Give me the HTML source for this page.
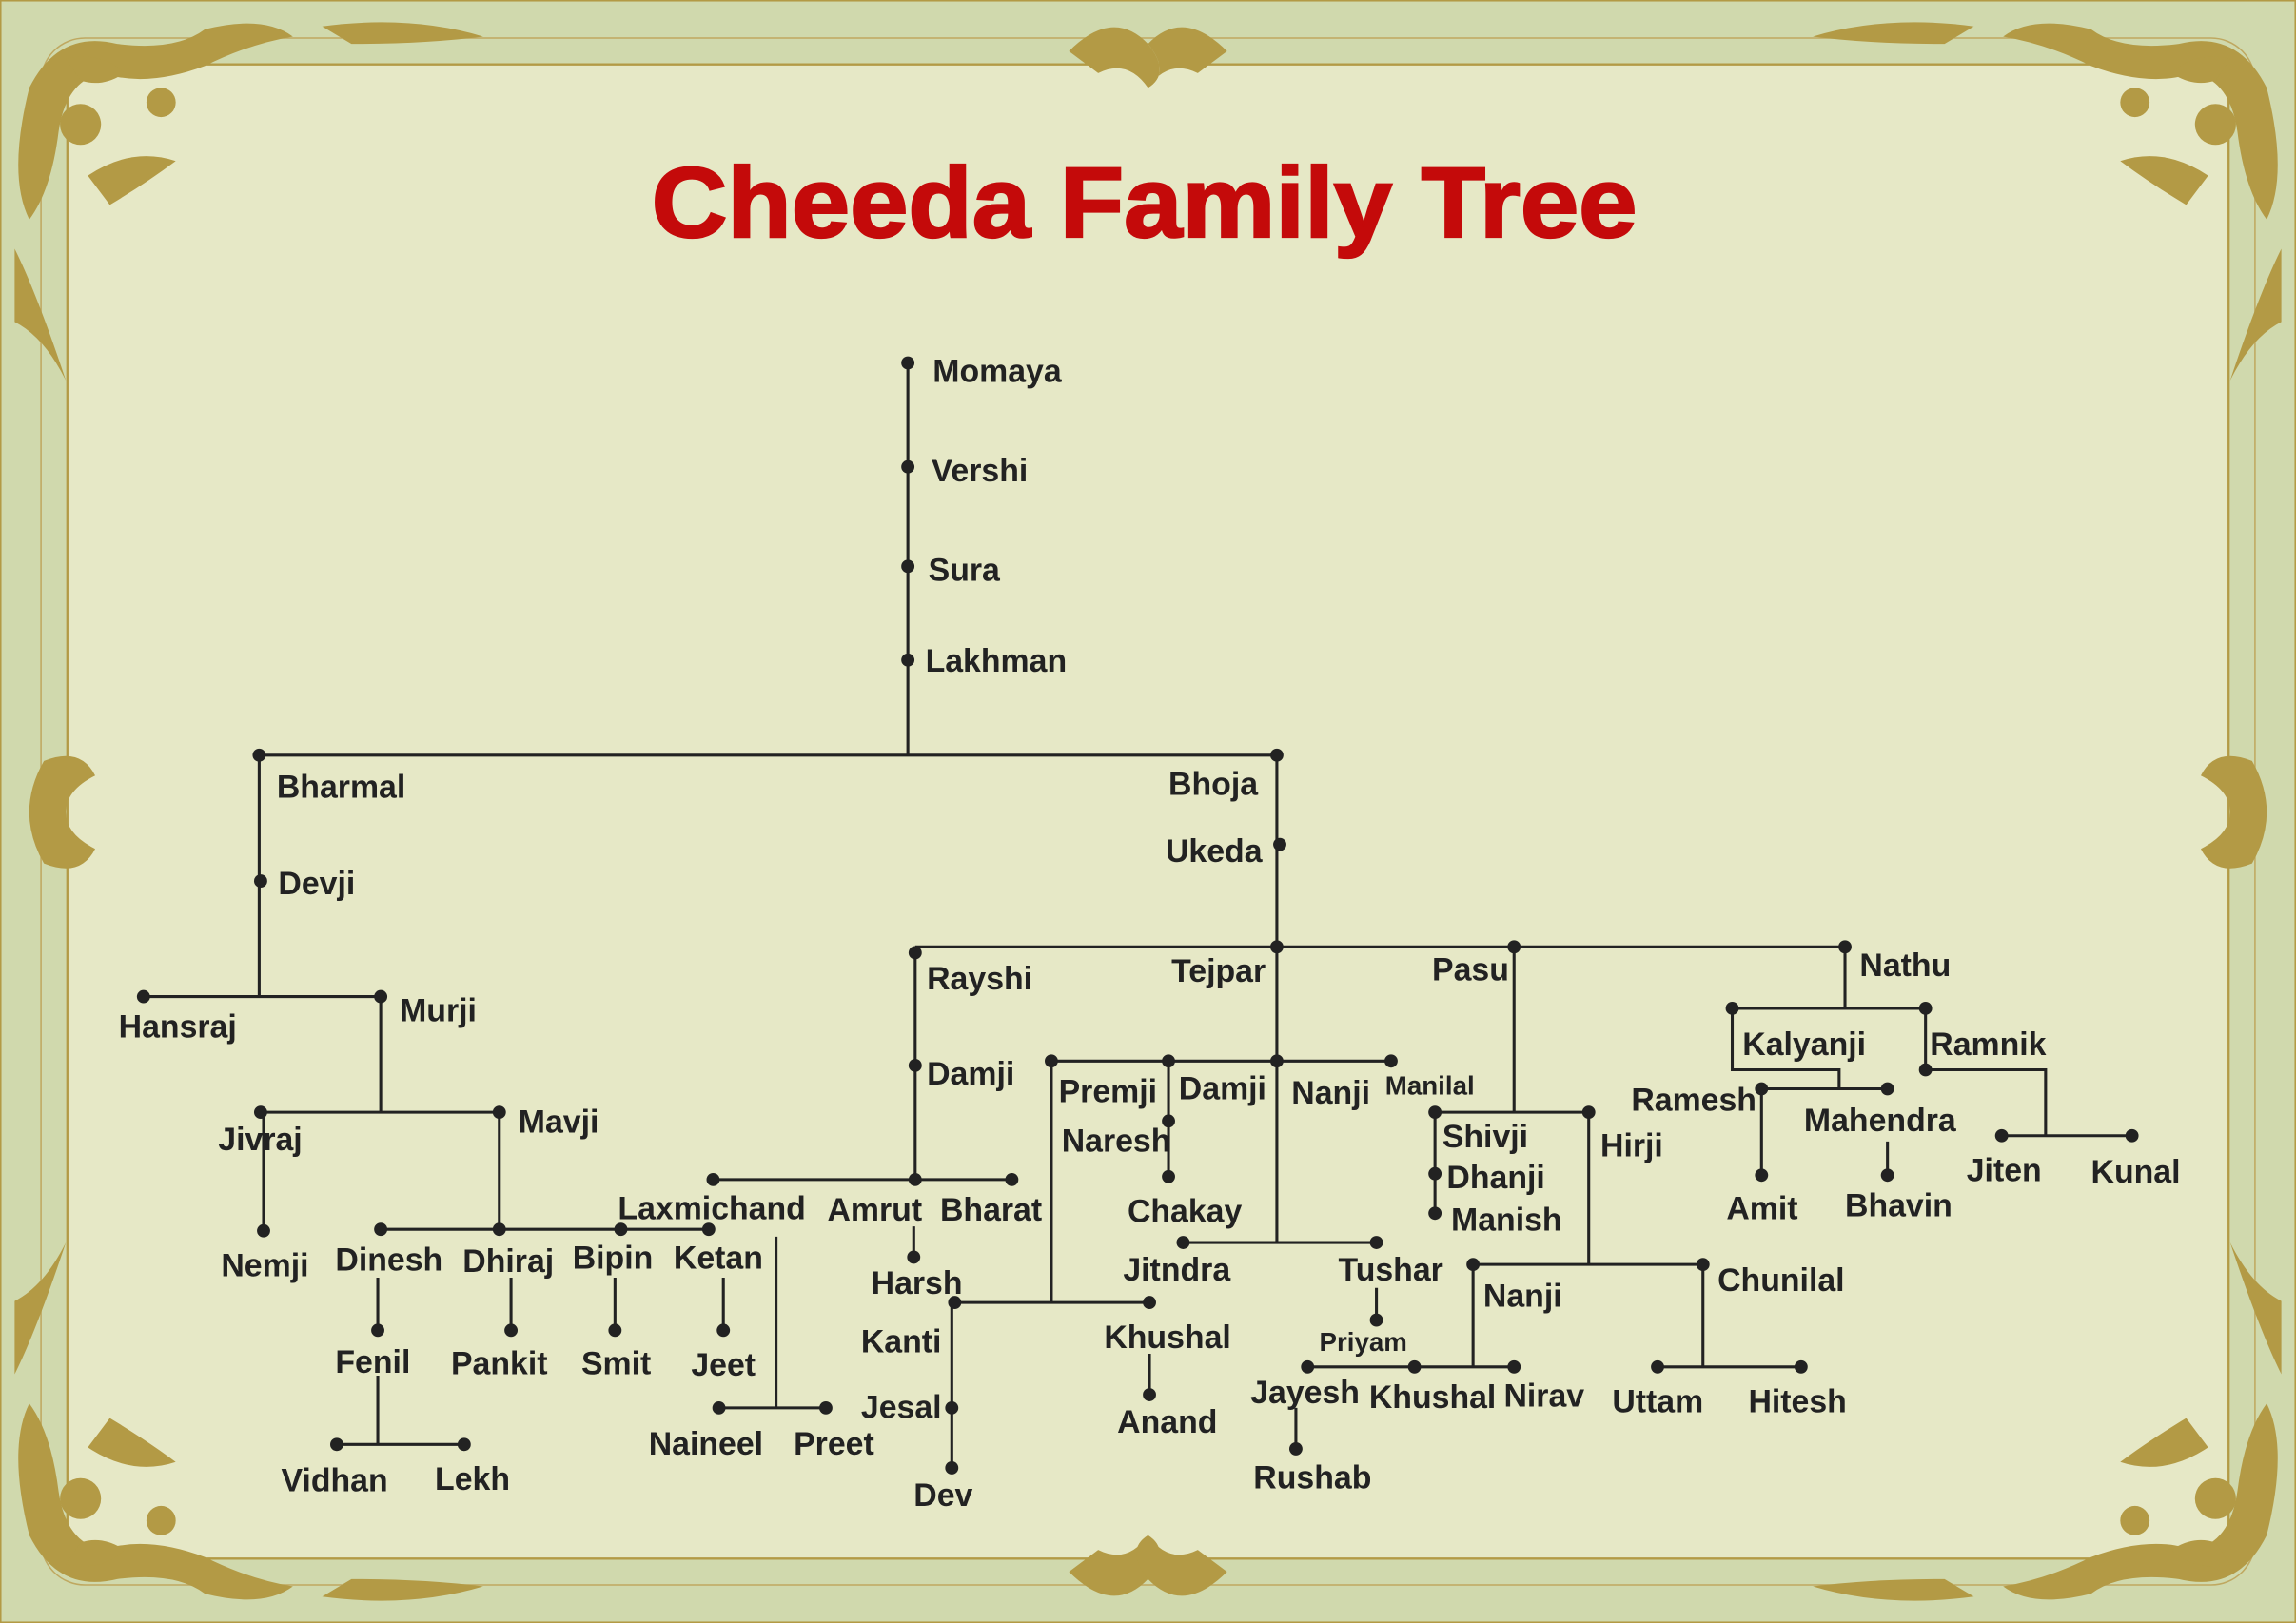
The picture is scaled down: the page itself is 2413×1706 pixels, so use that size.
<!DOCTYPE html>
<html><head><meta charset="utf-8"><style>
html,body{margin:0;padding:0;background:#d0d9ad}
svg{display:block}
text{font-family:"Liberation Sans",sans-serif;font-weight:bold;fill:#222;font-size:22px}
.t{font-size:18px}
</style></head><body>
<svg width="2413" height="1706" viewBox="0 0 1568 1109" preserveAspectRatio="none" xmlns="http://www.w3.org/2000/svg">
<rect x="0" y="0" width="1568" height="1109" fill="#d0d9ad" stroke="#b39a45" stroke-width="2"/>
<rect x="28" y="26" width="1512" height="1057" rx="30" fill="none" stroke="#bfa860" stroke-width="1"/>
<rect x="46" y="44" width="1476" height="1021" rx="20" fill="#e6e8c6" stroke="#b39a45" stroke-width="1.5"/>
<g fill="#b39a45">
<g id="c">
<path d="M20 60 Q40 20 80 30 Q120 35 140 20 Q180 10 200 25 Q170 30 140 45 Q100 60 70 50 Q45 55 40 90 Q35 130 20 150 Q5 120 20 60Z"/>
<circle cx="55" cy="85" r="14"/><circle cx="110" cy="70" r="10"/>
<path d="M10 170 Q25 200 45 260 Q30 230 10 220Z"/>
<path d="M220 18 Q280 10 330 25 Q290 30 240 30Z"/>
<path d="M60 120 Q90 100 120 110 Q100 125 75 140Z"/>
<path d="M45 40 Q70 35 85 50 Q70 60 55 55Z"/>
</g>
<use href="#c" transform="translate(1568,0) scale(-1,1)"/>
<use href="#c" transform="translate(0,1109) scale(1,-1)"/>
<use href="#c" transform="translate(1568,1109) scale(-1,-1)"/>
<path d="M730 35 Q760 5 784 30 Q800 50 784 60 Q770 40 750 50Z"/><path d="M838 35 Q808 5 784 30 Q800 50 784 60 Q798 40 818 50Z"/>
<path d="M730 1074 Q760 1104 784 1079 Q800 1059 784 1049 Q770 1069 750 1059Z"/><path d="M838 1074 Q808 1104 784 1079 Q768 1059 784 1049 Q798 1069 818 1059Z"/>
<path d="M30 520 Q10 555 30 590 Q55 600 65 580 Q45 570 45 555 Q45 540 65 530 Q55 510 30 520Z"/>
<path d="M1538 520 Q1558 555 1538 590 Q1513 600 1503 580 Q1523 570 1523 555 Q1523 540 1503 530 Q1513 510 1538 520Z"/>
</g>
<text x="445" y="162" textLength="673" lengthAdjust="spacingAndGlyphs" style="font-size:68px;fill:#c40a0a;stroke:#c40a0a;stroke-width:1.5">Cheeda Family Tree</text>
<g stroke="#222" stroke-width="2" fill="none">
<path d="M620 248V516M177 516H872M177 516V681M98 681H260M260 681V760M178 760H341M180 760V841M341 760V840M260 840H484"/>
<path d="M258 873V909M258 940V987M230 987H317M349 873V909M420 873V909M494 873V909M530 845V962M491 962H564"/>
<path d="M872 516V849M625 647H1260M625 647V806M487 806H691M624 838V859"/>
<path d="M718 725H950M718 725V890M652 890H785M650 890V1003M785 925V953M798 725V804M808 849H940M940 880V902"/>
<path d="M1034 647V760M980 760H1085M980 760V829M1085 760V864M1006 864H1163M1006 864V934M893 934H1034M885 962V990M1163 864V934M1132 934H1230"/>
<path d="M1260 647V689M1183 689H1315M1183 689V731H1256V744M1203 744H1289M1203 744V803M1289 780V803M1315 689V731H1397V776M1367 776H1456"/>
</g>
<g fill="#222">
<circle cx="620" cy="248" r="4.5"/><circle cx="620" cy="319" r="4.5"/><circle cx="620" cy="387" r="4.5"/><circle cx="620" cy="451" r="4.5"/>
<circle cx="177" cy="516" r="4.5"/><circle cx="872" cy="516" r="4.5"/><circle cx="178" cy="602" r="4.5"/>
<circle cx="98" cy="681" r="4.5"/><circle cx="260" cy="681" r="4.5"/><circle cx="178" cy="760" r="4.5"/><circle cx="341" cy="760" r="4.5"/>
<circle cx="180" cy="841" r="4.5"/><circle cx="260" cy="840" r="4.5"/><circle cx="341" cy="840" r="4.5"/><circle cx="424" cy="840" r="4.5"/><circle cx="484" cy="840" r="4.5"/>
<circle cx="258" cy="909" r="4.5"/><circle cx="349" cy="909" r="4.5"/><circle cx="420" cy="909" r="4.5"/><circle cx="494" cy="909" r="4.5"/>
<circle cx="230" cy="987" r="4.5"/><circle cx="317" cy="987" r="4.5"/><circle cx="491" cy="962" r="4.5"/><circle cx="564" cy="962" r="4.5"/>
<circle cx="874" cy="577" r="4.5"/><circle cx="625" cy="651" r="4.5"/><circle cx="872" cy="647" r="4.5"/><circle cx="1034" cy="647" r="4.5"/><circle cx="1260" cy="647" r="4.5"/>
<circle cx="625" cy="728" r="4.5"/><circle cx="487" cy="806" r="4.5"/><circle cx="625" cy="806" r="4.5"/><circle cx="691" cy="806" r="4.5"/><circle cx="624" cy="859" r="4.5"/>
<circle cx="718" cy="725" r="4.5"/><circle cx="798" cy="725" r="4.5"/><circle cx="872" cy="725" r="4.5"/><circle cx="950" cy="725" r="4.5"/>
<circle cx="798" cy="766" r="4.5"/><circle cx="798" cy="804" r="4.5"/><circle cx="808" cy="849" r="4.5"/><circle cx="940" cy="849" r="4.5"/><circle cx="940" cy="902" r="4.5"/>
<circle cx="652" cy="890" r="4.5"/><circle cx="785" cy="890" r="4.5"/><circle cx="650" cy="962" r="4.5"/><circle cx="650" cy="1003" r="4.5"/><circle cx="785" cy="953" r="4.5"/>
<circle cx="980" cy="760" r="4.5"/><circle cx="1085" cy="760" r="4.5"/><circle cx="980" cy="802" r="4.5"/><circle cx="980" cy="829" r="4.5"/>
<circle cx="1006" cy="864" r="4.5"/><circle cx="1163" cy="864" r="4.5"/><circle cx="893" cy="934" r="4.5"/><circle cx="966" cy="934" r="4.5"/><circle cx="1034" cy="934" r="4.5"/><circle cx="885" cy="990" r="4.5"/>
<circle cx="1132" cy="934" r="4.5"/><circle cx="1230" cy="934" r="4.5"/>
<circle cx="1183" cy="689" r="4.5"/><circle cx="1315" cy="689" r="4.5"/><circle cx="1203" cy="744" r="4.5"/><circle cx="1289" cy="744" r="4.5"/>
<circle cx="1203" cy="803" r="4.5"/><circle cx="1289" cy="803" r="4.5"/><circle cx="1315" cy="731" r="4.5"/><circle cx="1367" cy="776" r="4.5"/><circle cx="1456" cy="776" r="4.5"/>
</g>
<g>
<text x="637" y="261">Momaya</text><text x="636" y="329">Vershi</text><text x="634" y="397">Sura</text><text x="632" y="459">Lakhman</text>
<text x="189" y="545">Bharmal</text><text x="798" y="543">Bhoja</text><text x="190" y="611">Devji</text><text x="796" y="589">Ukeda</text>
<text x="81" y="709">Hansraj</text><text x="273" y="698">Murji</text><text x="149" y="786">Jivraj</text><text x="354" y="774">Mavji</text>
<text x="151" y="872">Nemji</text><text x="229" y="868">Dinesh</text><text x="316" y="869">Dhiraj</text><text x="391" y="867">Bipin</text><text x="460" y="867">Ketan</text>
<text x="229" y="938">Fenil</text><text x="308" y="939">Pankit</text><text x="397" y="939">Smit</text><text x="472" y="940">Jeet</text>
<text x="192" y="1019">Vidhan</text><text x="297" y="1018">Lekh</text><text x="443" y="994">Naineel</text><text x="542" y="994">Preet</text>
<text x="422" y="833">Laxmichand</text><text x="565" y="834">Amrut</text><text x="642" y="834">Bharat</text><text x="595" y="884">Harsh</text>
<text x="633" y="676">Rayshi</text><text x="800" y="671">Tejpar</text><text x="978" y="670">Pasu</text><text x="1270" y="667">Nathu</text>
<text x="633" y="741">Damji</text><text x="723" y="753">Premji</text><text x="805" y="751">Damji</text><text x="882" y="754">Nanji</text><text class="t" x="946" y="748">Manilal</text>
<text x="725" y="787">Naresh</text><text x="770" y="835">Chakay</text><text x="767" y="875">Jitndra</text><text x="914" y="875">Tushar</text><text class="t" x="901" y="923">Priyam</text>
<text x="588" y="924">Kanti</text><text x="588" y="969">Jesal</text><text x="624" y="1029">Dev</text><text x="754" y="921">Khushal</text><text x="763" y="979">Anand</text>
<text x="985" y="784">Shivji</text><text x="1093" y="790">Hirji</text><text x="988" y="812">Dhanji</text><text x="991" y="841">Manish</text>
<text x="1013" y="893">Nanji</text><text x="1173" y="882">Chunilal</text><text x="854" y="959">Jayesh</text><text x="935" y="962">Khushal</text><text x="1027" y="961">Nirav</text>
<text x="856" y="1017">Rushab</text><text x="1101" y="965">Uttam</text><text x="1194" y="965">Hitesh</text>
<text x="1190" y="721">Kalyanji</text><text x="1318" y="721">Ramnik</text><text x="1114" y="759">Ramesh</text><text x="1232" y="773">Mahendra</text>
<text x="1179" y="833">Amit</text><text x="1260" y="831">Bhavin</text><text x="1343" y="807">Jiten</text><text x="1428" y="808">Kunal</text>
</g>
</svg>
</body></html>
